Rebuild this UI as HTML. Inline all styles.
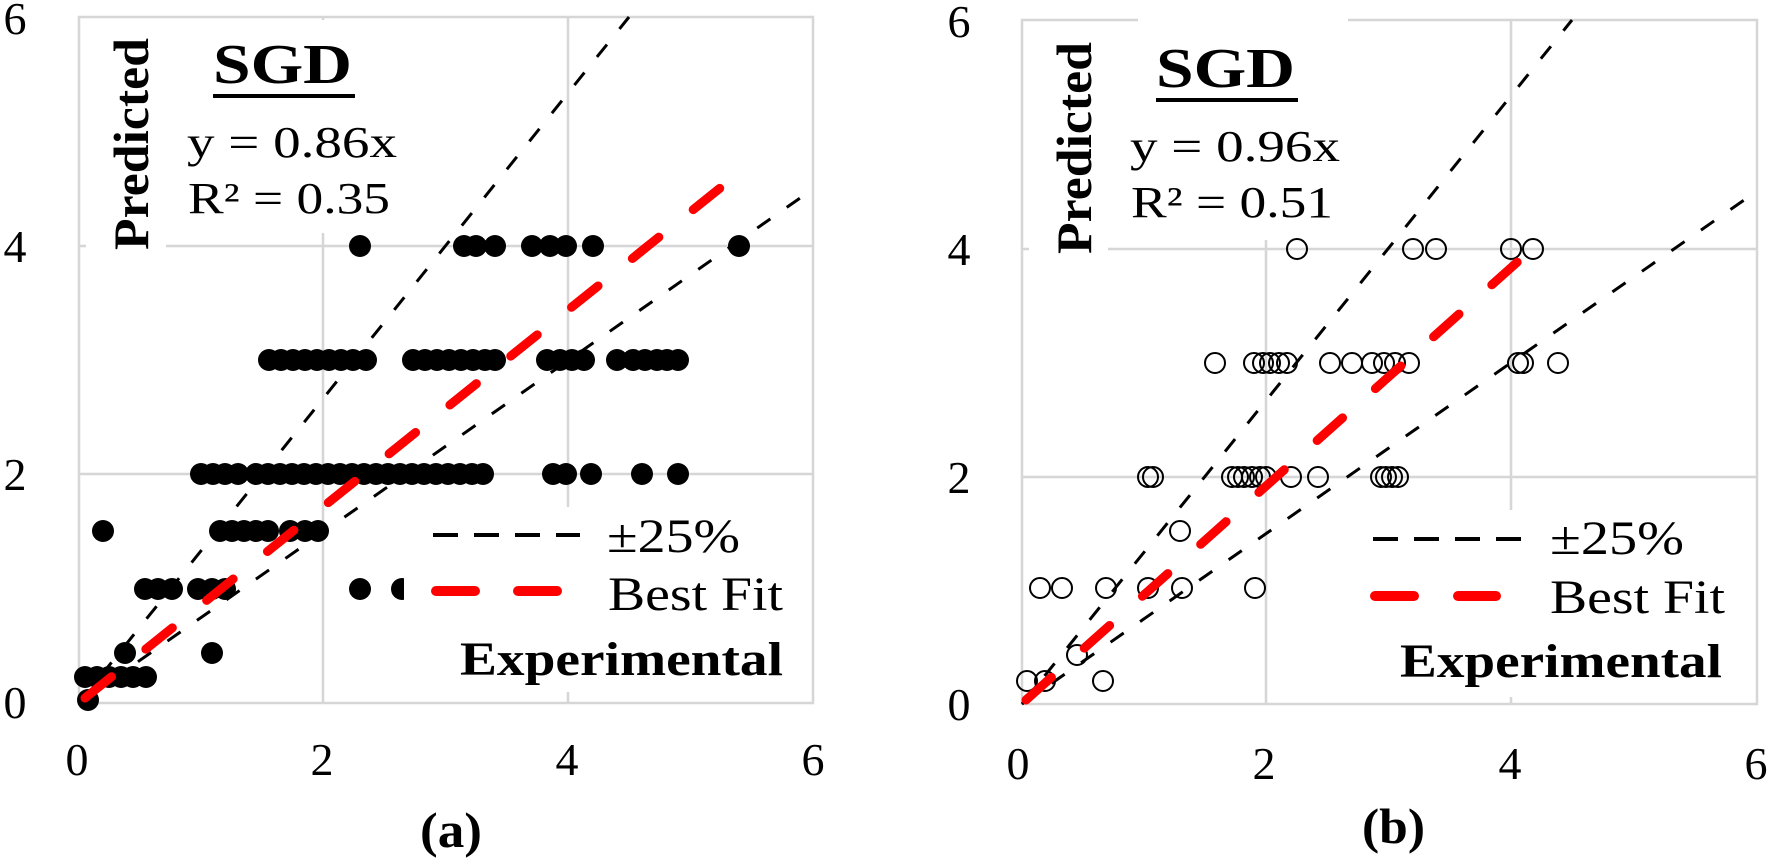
<!DOCTYPE html>
<html><head><meta charset="utf-8"><style>
html,body{margin:0;padding:0;background:#fff;}
svg{display:block;font-family:"Liberation Serif",serif;}
</style></head><body>
<svg width="1769" height="864" viewBox="0 0 1769 864" xmlns="http://www.w3.org/2000/svg">
<defs>
<circle id="f" r="11" fill="#000"/>
<circle id="o" r="10" fill="none" stroke="#000" stroke-width="2"/>
</defs>

<!-- ============ PANEL A ============ -->
<g stroke="#d6d6d6" stroke-width="2.5" fill="none">
<rect x="79" y="17" width="734" height="686"/>
<line x1="323" y1="17" x2="323" y2="703"/>
<line x1="568" y1="17" x2="568" y2="703"/>
<line x1="79" y1="246" x2="813" y2="246"/>
<line x1="79" y1="474" x2="813" y2="474"/>
</g>
<rect x="86" y="20" width="80" height="237" fill="#fff"/>
<rect x="166" y="20" width="255" height="213" fill="#fff"/>

<g fill="#000" font-size="46" text-anchor="middle">
<text x="15" y="34">6</text><text x="15" y="262">4</text><text x="15" y="490">2</text><text x="15" y="718">0</text>
<text x="77" y="775">0</text><text x="322" y="775">2</text><text x="567" y="775">4</text><text x="813" y="775">6</text>
</g>

<g stroke="#000" stroke-width="3" stroke-dasharray="16 20" fill="none">
<line x1="79" y1="703" x2="629" y2="17"/>
<line x1="79" y1="703" x2="813" y2="189"/>
</g>

<g>
<use href="#f" x="360" y="246"/><use href="#f" x="464" y="246"/><use href="#f" x="476" y="246"/><use href="#f" x="495" y="246"/>
<use href="#f" x="532" y="246"/><use href="#f" x="550" y="246"/><use href="#f" x="566" y="246"/><use href="#f" x="593" y="246"/><use href="#f" x="739" y="246"/>
<use href="#f" x="269" y="360"/><use href="#f" x="281" y="360"/><use href="#f" x="293" y="360"/><use href="#f" x="305" y="360"/><use href="#f" x="317" y="360"/><use href="#f" x="329" y="360"/><use href="#f" x="341" y="360"/><use href="#f" x="353" y="360"/><use href="#f" x="366" y="360"/>
<use href="#f" x="413" y="360"/><use href="#f" x="425" y="360"/><use href="#f" x="437" y="360"/><use href="#f" x="449" y="360"/><use href="#f" x="461" y="360"/><use href="#f" x="473" y="360"/><use href="#f" x="485" y="360"/><use href="#f" x="495" y="360"/>
<use href="#f" x="547" y="360"/><use href="#f" x="560" y="360"/><use href="#f" x="572" y="360"/><use href="#f" x="584" y="360"/><use href="#f" x="617" y="360"/>
<use href="#f" x="633" y="360"/><use href="#f" x="645" y="360"/><use href="#f" x="657" y="360"/><use href="#f" x="667" y="360"/><use href="#f" x="678" y="360"/>
<use href="#f" x="201" y="474"/><use href="#f" x="213" y="474"/><use href="#f" x="225" y="474"/><use href="#f" x="238" y="474"/>
<use href="#f" x="256" y="474"/><use href="#f" x="268" y="474"/><use href="#f" x="280" y="474"/><use href="#f" x="292" y="474"/><use href="#f" x="304" y="474"/><use href="#f" x="316" y="474"/><use href="#f" x="328" y="474"/><use href="#f" x="340" y="474"/><use href="#f" x="352" y="474"/><use href="#f" x="364" y="474"/><use href="#f" x="376" y="474"/><use href="#f" x="388" y="474"/><use href="#f" x="400" y="474"/><use href="#f" x="412" y="474"/><use href="#f" x="424" y="474"/><use href="#f" x="436" y="474"/><use href="#f" x="448" y="474"/><use href="#f" x="460" y="474"/><use href="#f" x="472" y="474"/><use href="#f" x="483" y="474"/>
<use href="#f" x="553" y="474"/><use href="#f" x="566" y="474"/><use href="#f" x="591" y="474"/><use href="#f" x="642" y="474"/><use href="#f" x="678" y="474"/>
<use href="#f" x="103" y="531"/><use href="#f" x="220" y="531"/><use href="#f" x="232" y="531"/><use href="#f" x="244" y="531"/><use href="#f" x="256" y="531"/><use href="#f" x="268" y="531"/><use href="#f" x="290" y="531"/><use href="#f" x="305" y="531"/><use href="#f" x="318" y="531"/>
<use href="#f" x="145" y="589"/><use href="#f" x="158" y="589"/><use href="#f" x="172" y="589"/><use href="#f" x="198" y="589"/><use href="#f" x="212" y="589"/><use href="#f" x="225" y="589"/><use href="#f" x="360" y="589"/><use href="#f" x="402" y="589"/>
<use href="#f" x="125" y="653"/><use href="#f" x="212" y="653"/>
<use href="#f" x="85" y="677"/><use href="#f" x="97" y="677"/><use href="#f" x="109" y="677"/><use href="#f" x="121" y="677"/><use href="#f" x="133" y="677"/><use href="#f" x="146" y="677"/>
<use href="#f" x="88" y="700"/>
</g>

<line x1="85" y1="698" x2="745" y2="168" stroke="#f00" stroke-width="9" stroke-linecap="round" stroke-dasharray="34 44"/>

<rect x="404" y="507" width="407" height="185" fill="#fff"/>
<g stroke="#000" stroke-width="4" stroke-dasharray="25 16"><line x1="433" y1="535" x2="580" y2="535"/></g>
<g stroke="#f00" stroke-width="10" stroke-linecap="round"><line x1="436" y1="591" x2="475" y2="591"/><line x1="518" y1="591" x2="557" y2="591"/></g>
<text x="607" y="552" font-size="48" textLength="133" lengthAdjust="spacingAndGlyphs">±25%</text>
<text x="608" y="610" font-size="48" textLength="175" lengthAdjust="spacingAndGlyphs">Best Fit</text>
<text x="460" y="675" font-size="48" font-weight="bold" textLength="323" lengthAdjust="spacingAndGlyphs">Experimental</text>

<text transform="translate(148,250) rotate(-90)" font-size="50" font-weight="bold" textLength="212" lengthAdjust="spacingAndGlyphs">Predicted</text>
<text x="213" y="83" font-size="56" font-weight="bold" textLength="139" lengthAdjust="spacingAndGlyphs">SGD</text>
<rect x="213" y="94" width="142" height="4" fill="#000"/>
<text x="187" y="157" font-size="44" textLength="210" lengthAdjust="spacingAndGlyphs">y = 0.86x</text>
<text x="188" y="213" font-size="44" textLength="202" lengthAdjust="spacingAndGlyphs">R² = 0.35</text>
<text x="420" y="847" font-size="50" font-weight="bold" textLength="62" lengthAdjust="spacingAndGlyphs">(a)</text>

<!-- ============ PANEL B ============ -->
<g stroke="#d6d6d6" stroke-width="2.5" fill="none">
<rect x="1022" y="20" width="735" height="684"/>
<line x1="1266" y1="20" x2="1266" y2="704"/>
<line x1="1511" y1="20" x2="1511" y2="704"/>
<line x1="1022" y1="249" x2="1757" y2="249"/>
<line x1="1022" y1="477" x2="1757" y2="477"/>
</g>
<rect x="1029" y="23" width="79" height="237" fill="#fff"/>
<rect x="1138" y="10" width="210" height="230" fill="#fff"/>

<g fill="#000" font-size="46" text-anchor="middle">
<text x="959" y="37">6</text><text x="959" y="265">4</text><text x="959" y="493">2</text><text x="959" y="720">0</text>
<text x="1018" y="779">0</text><text x="1264" y="779">2</text><text x="1510" y="779">4</text><text x="1756" y="779">6</text>
</g>

<g stroke="#000" stroke-width="3" stroke-dasharray="16 20" fill="none">
<line x1="1022" y1="704" x2="1572" y2="20"/>
<line x1="1022" y1="704" x2="1757" y2="191"/>
</g>

<g>
<use href="#o" x="1297" y="249"/><use href="#o" x="1413" y="249"/><use href="#o" x="1436" y="249"/><use href="#o" x="1511" y="249"/><use href="#o" x="1533" y="249"/>
<use href="#o" x="1215" y="363"/><use href="#o" x="1254" y="363"/><use href="#o" x="1263" y="363"/><use href="#o" x="1270" y="363"/><use href="#o" x="1279" y="363"/><use href="#o" x="1287" y="363"/>
<use href="#o" x="1330" y="363"/><use href="#o" x="1352" y="363"/><use href="#o" x="1372" y="363"/><use href="#o" x="1384" y="363"/><use href="#o" x="1395" y="363"/><use href="#o" x="1409" y="363"/>
<use href="#o" x="1518" y="363"/><use href="#o" x="1523" y="363"/><use href="#o" x="1558" y="363"/>
<use href="#o" x="1148" y="477"/><use href="#o" x="1153" y="477"/><use href="#o" x="1232" y="477"/><use href="#o" x="1238" y="477"/><use href="#o" x="1244" y="477"/><use href="#o" x="1252" y="477"/><use href="#o" x="1260" y="477"/><use href="#o" x="1266" y="477"/>
<use href="#o" x="1291" y="477"/><use href="#o" x="1318" y="477"/><use href="#o" x="1381" y="477"/><use href="#o" x="1386" y="477"/><use href="#o" x="1392" y="477"/><use href="#o" x="1398" y="477"/>
<use href="#o" x="1180" y="531"/>
<use href="#o" x="1040" y="588"/><use href="#o" x="1062" y="588"/><use href="#o" x="1106" y="588"/><use href="#o" x="1148" y="588"/><use href="#o" x="1182" y="588"/><use href="#o" x="1255" y="588"/>
<use href="#o" x="1077" y="655"/>
<use href="#o" x="1027" y="681"/><use href="#o" x="1045" y="681"/><use href="#o" x="1103" y="681"/>
</g>

<line x1="1026" y1="700" x2="1532" y2="249" stroke="#f00" stroke-width="9" stroke-linecap="round" stroke-dasharray="34 44"/>

<rect x="1347" y="510" width="408" height="187" fill="#fff"/>
<g stroke="#000" stroke-width="4" stroke-dasharray="25 16"><line x1="1373" y1="539" x2="1521" y2="539"/></g>
<g stroke="#f00" stroke-width="10" stroke-linecap="round"><line x1="1375" y1="596" x2="1414" y2="596"/><line x1="1458" y1="596" x2="1496" y2="596"/></g>
<text x="1550" y="554" font-size="48" textLength="134" lengthAdjust="spacingAndGlyphs">±25%</text>
<text x="1550" y="613" font-size="48" textLength="175" lengthAdjust="spacingAndGlyphs">Best Fit</text>
<text x="1400" y="677" font-size="48" font-weight="bold" textLength="322" lengthAdjust="spacingAndGlyphs">Experimental</text>

<text transform="translate(1091,254) rotate(-90)" font-size="50" font-weight="bold" textLength="212" lengthAdjust="spacingAndGlyphs">Predicted</text>
<text x="1156" y="87" font-size="56" font-weight="bold" textLength="139" lengthAdjust="spacingAndGlyphs">SGD</text>
<rect x="1156" y="98" width="142" height="4" fill="#000"/>
<text x="1130" y="161" font-size="44" textLength="210" lengthAdjust="spacingAndGlyphs">y = 0.96x</text>
<text x="1131" y="217" font-size="44" textLength="202" lengthAdjust="spacingAndGlyphs">R² = 0.51</text>
<text x="1362" y="843" font-size="50" font-weight="bold" textLength="63" lengthAdjust="spacingAndGlyphs">(b)</text>
</svg>
</body></html>
